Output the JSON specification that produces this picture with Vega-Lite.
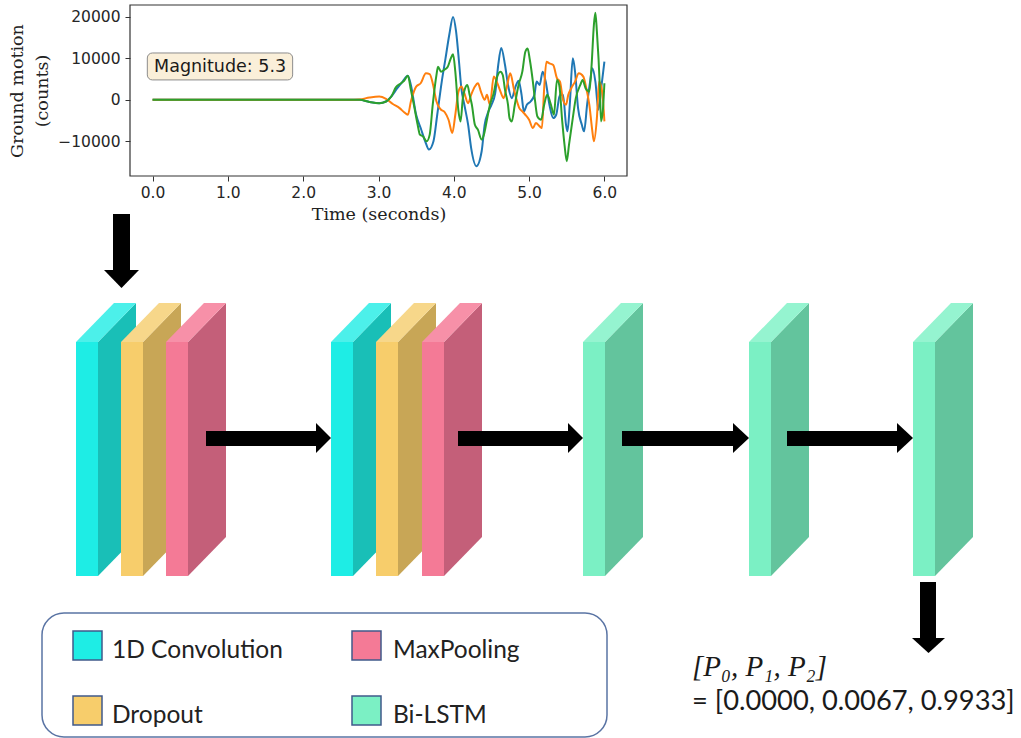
{
  "$schema": "https://vega.github.io/schema/vega-lite/v6.json",
  "width": 1021,
  "height": 738,
  "autosize": {"type": "none"},
  "padding": 0,
  "background": "white",
  "config": {"view": {"stroke": null}},
  "datasets": {
    "wave": [
      {"ch":"c1","t":0,"v":0},{"ch":"c1","t":2.6,"v":0},{"ch":"c1","t":2.75,"v":0},{"ch":"c1","t":2.88,"v":-500},{"ch":"c1","t":3.01,"v":-800},{"ch":"c1","t":3.1,"v":-400},{"ch":"c1","t":3.17,"v":800},{"ch":"c1","t":3.25,"v":2800},{"ch":"c1","t":3.32,"v":4400},{"ch":"c1","t":3.39,"v":5800},{"ch":"c1","t":3.43,"v":3600},{"ch":"c1","t":3.5,"v":-3600},{"ch":"c1","t":3.56,"v":-6800},{"ch":"c1","t":3.62,"v":-10000},{"ch":"c1","t":3.67,"v":-12000},{"ch":"c1","t":3.73,"v":-10000},{"ch":"c1","t":3.78,"v":-3600},{"ch":"c1","t":3.84,"v":4400},{"ch":"c1","t":3.89,"v":10000},{"ch":"c1","t":3.94,"v":15700},{"ch":"c1","t":3.99,"v":20000},{"ch":"c1","t":4.03,"v":16500},{"ch":"c1","t":4.07,"v":9000},{"ch":"c1","t":4.1,"v":2800},{"ch":"c1","t":4.14,"v":-1200},{"ch":"c1","t":4.19,"v":-6000},{"ch":"c1","t":4.23,"v":-11600},{"ch":"c1","t":4.3,"v":-16000},{"ch":"c1","t":4.37,"v":-12400},{"ch":"c1","t":4.41,"v":-6000},{"ch":"c1","t":4.46,"v":-2800},{"ch":"c1","t":4.5,"v":-1200},{"ch":"c1","t":4.55,"v":1600},{"ch":"c1","t":4.59,"v":8400},{"ch":"c1","t":4.63,"v":12500},{"ch":"c1","t":4.68,"v":8400},{"ch":"c1","t":4.72,"v":3600},{"ch":"c1","t":4.77,"v":400},{"ch":"c1","t":4.82,"v":3200},{"ch":"c1","t":4.86,"v":4600},{"ch":"c1","t":4.9,"v":1200},{"ch":"c1","t":4.93,"v":-2800},{"ch":"c1","t":4.97,"v":-1200},{"ch":"c1","t":5.02,"v":-400},{"ch":"c1","t":5.07,"v":1200},{"ch":"c1","t":5.1,"v":4400},{"ch":"c1","t":5.14,"v":3600},{"ch":"c1","t":5.18,"v":6800},{"ch":"c1","t":5.22,"v":4400},{"ch":"c1","t":5.27,"v":-1200},{"ch":"c1","t":5.32,"v":-4400},{"ch":"c1","t":5.36,"v":-3600},{"ch":"c1","t":5.41,"v":1200},{"ch":"c1","t":5.45,"v":1200},{"ch":"c1","t":5.49,"v":-6000},{"ch":"c1","t":5.51,"v":-7600},{"ch":"c1","t":5.54,"v":-1200},{"ch":"c1","t":5.58,"v":10000},{"ch":"c1","t":5.61,"v":6800},{"ch":"c1","t":5.65,"v":-2000},{"ch":"c1","t":5.7,"v":-6000},{"ch":"c1","t":5.73,"v":-7600},{"ch":"c1","t":5.77,"v":-1200},{"ch":"c1","t":5.81,"v":4400},{"ch":"c1","t":5.84,"v":7600},{"ch":"c1","t":5.88,"v":4400},{"ch":"c1","t":5.92,"v":-2400},{"ch":"c1","t":5.96,"v":3200},{"ch":"c1","t":6.0,"v":9200},
      {"ch":"c2","t":0,"v":0},{"ch":"c2","t":2.6,"v":0},{"ch":"c2","t":2.75,"v":100},{"ch":"c2","t":2.88,"v":560},{"ch":"c2","t":3.01,"v":800},{"ch":"c2","t":3.1,"v":240},{"ch":"c2","t":3.19,"v":-1000},{"ch":"c2","t":3.28,"v":-2000},{"ch":"c2","t":3.34,"v":-3000},{"ch":"c2","t":3.39,"v":-3600},{"ch":"c2","t":3.43,"v":-400},{"ch":"c2","t":3.5,"v":3200},{"ch":"c2","t":3.56,"v":4000},{"ch":"c2","t":3.63,"v":6400},{"ch":"c2","t":3.68,"v":6200},{"ch":"c2","t":3.72,"v":4000},{"ch":"c2","t":3.77,"v":-400},{"ch":"c2","t":3.82,"v":-2200},{"ch":"c2","t":3.88,"v":-3000},{"ch":"c2","t":3.93,"v":-4800},{"ch":"c2","t":3.98,"v":-8000},{"ch":"c2","t":4.02,"v":-3600},{"ch":"c2","t":4.06,"v":1800},{"ch":"c2","t":4.1,"v":3200},{"ch":"c2","t":4.14,"v":1600},{"ch":"c2","t":4.19,"v":-800},{"ch":"c2","t":4.23,"v":1200},{"ch":"c2","t":4.28,"v":3200},{"ch":"c2","t":4.32,"v":4000},{"ch":"c2","t":4.36,"v":2000},{"ch":"c2","t":4.41,"v":0},{"ch":"c2","t":4.44,"v":1200},{"ch":"c2","t":4.48,"v":-1200},{"ch":"c2","t":4.53,"v":5600},{"ch":"c2","t":4.57,"v":4400},{"ch":"c2","t":4.62,"v":2000},{"ch":"c2","t":4.66,"v":400},{"ch":"c2","t":4.7,"v":2800},{"ch":"c2","t":4.75,"v":6400},{"ch":"c2","t":4.8,"v":2400},{"ch":"c2","t":4.84,"v":-400},{"ch":"c2","t":4.87,"v":-2000},{"ch":"c2","t":4.91,"v":-2800},{"ch":"c2","t":4.95,"v":-3600},{"ch":"c2","t":5.0,"v":-4800},{"ch":"c2","t":5.05,"v":-6800},{"ch":"c2","t":5.09,"v":-5600},{"ch":"c2","t":5.14,"v":-6400},{"ch":"c2","t":5.17,"v":-6800},{"ch":"c2","t":5.2,"v":2800},{"ch":"c2","t":5.23,"v":9200},{"ch":"c2","t":5.27,"v":8800},{"ch":"c2","t":5.32,"v":8400},{"ch":"c2","t":5.37,"v":5200},{"ch":"c2","t":5.41,"v":4400},{"ch":"c2","t":5.45,"v":0},{"ch":"c2","t":5.49,"v":-1200},{"ch":"c2","t":5.52,"v":1200},{"ch":"c2","t":5.56,"v":2800},{"ch":"c2","t":5.61,"v":4400},{"ch":"c2","t":5.66,"v":6400},{"ch":"c2","t":5.72,"v":5600},{"ch":"c2","t":5.75,"v":3600},{"ch":"c2","t":5.8,"v":-1200},{"ch":"c2","t":5.84,"v":-7600},{"ch":"c2","t":5.86,"v":-10000},{"ch":"c2","t":5.9,"v":-4400},{"ch":"c2","t":5.93,"v":4400},{"ch":"c2","t":5.97,"v":2000},{"ch":"c2","t":6.0,"v":-5200},
      {"ch":"c3","t":0,"v":0},{"ch":"c3","t":2.6,"v":0},{"ch":"c3","t":2.75,"v":0},{"ch":"c3","t":2.88,"v":-500},{"ch":"c3","t":3.01,"v":-800},{"ch":"c3","t":3.1,"v":-400},{"ch":"c3","t":3.17,"v":800},{"ch":"c3","t":3.23,"v":3000},{"ch":"c3","t":3.3,"v":4000},{"ch":"c3","t":3.34,"v":4600},{"ch":"c3","t":3.39,"v":5800},{"ch":"c3","t":3.43,"v":2400},{"ch":"c3","t":3.47,"v":-1200},{"ch":"c3","t":3.52,"v":-6000},{"ch":"c3","t":3.55,"v":-8400},{"ch":"c3","t":3.59,"v":-8800},{"ch":"c3","t":3.64,"v":-10000},{"ch":"c3","t":3.68,"v":-8400},{"ch":"c3","t":3.72,"v":-1200},{"ch":"c3","t":3.77,"v":6000},{"ch":"c3","t":3.79,"v":8000},{"ch":"c3","t":3.83,"v":6800},{"ch":"c3","t":3.87,"v":7200},{"ch":"c3","t":3.92,"v":8000},{"ch":"c3","t":3.96,"v":10000},{"ch":"c3","t":3.99,"v":11000},{"ch":"c3","t":4.02,"v":6800},{"ch":"c3","t":4.06,"v":-2400},{"ch":"c3","t":4.09,"v":-5200},{"ch":"c3","t":4.12,"v":400},{"ch":"c3","t":4.15,"v":2800},{"ch":"c3","t":4.18,"v":3600},{"ch":"c3","t":4.21,"v":1200},{"ch":"c3","t":4.24,"v":-1200},{"ch":"c3","t":4.28,"v":-6000},{"ch":"c3","t":4.32,"v":-7200},{"ch":"c3","t":4.37,"v":-9600},{"ch":"c3","t":4.4,"v":-8400},{"ch":"c3","t":4.44,"v":-4800},{"ch":"c3","t":4.48,"v":-1200},{"ch":"c3","t":4.53,"v":1600},{"ch":"c3","t":4.57,"v":5200},{"ch":"c3","t":4.62,"v":6800},{"ch":"c3","t":4.65,"v":6000},{"ch":"c3","t":4.68,"v":2400},{"ch":"c3","t":4.72,"v":-1200},{"ch":"c3","t":4.74,"v":-4400},{"ch":"c3","t":4.77,"v":-5200},{"ch":"c3","t":4.81,"v":-1200},{"ch":"c3","t":4.86,"v":3600},{"ch":"c3","t":4.91,"v":6800},{"ch":"c3","t":4.95,"v":11600},{"ch":"c3","t":4.98,"v":12400},{"ch":"c3","t":5.01,"v":9600},{"ch":"c3","t":5.05,"v":4400},{"ch":"c3","t":5.08,"v":-400},{"ch":"c3","t":5.11,"v":-4000},{"ch":"c3","t":5.16,"v":-4800},{"ch":"c3","t":5.2,"v":-1200},{"ch":"c3","t":5.24,"v":1200},{"ch":"c3","t":5.29,"v":-1200},{"ch":"c3","t":5.33,"v":-3600},{"ch":"c3","t":5.37,"v":4800},{"ch":"c3","t":5.4,"v":3600},{"ch":"c3","t":5.44,"v":-5200},{"ch":"c3","t":5.47,"v":-10800},{"ch":"c3","t":5.5,"v":-14800},{"ch":"c3","t":5.53,"v":-10800},{"ch":"c3","t":5.58,"v":-4400},{"ch":"c3","t":5.62,"v":400},{"ch":"c3","t":5.68,"v":3600},{"ch":"c3","t":5.71,"v":4800},{"ch":"c3","t":5.75,"v":2800},{"ch":"c3","t":5.8,"v":2000},{"ch":"c3","t":5.83,"v":8400},{"ch":"c3","t":5.86,"v":18000},{"ch":"c3","t":5.88,"v":21000},{"ch":"c3","t":5.9,"v":16500},{"ch":"c3","t":5.94,"v":2800},{"ch":"c3","t":5.955,"v":-5200},{"ch":"c3","t":5.98,"v":-2400},{"ch":"c3","t":6.0,"v":4000}
    ],
    "frame": [{"t": -0.3, "t2": 6.3, "v": -18375, "v2": 22875}],
    "annot": [{"label": "Magnitude: 5.3", "t": -0.07, "t2": 1.86, "v": 4800, "v2": 11300, "tt": 0.02, "tv": 8000}],
    "fronts": [
      {"id":1,"kind":"1D Convolution","xl":76,"xr":98,"yt":342,"yb":576},
      {"id":2,"kind":"Dropout","xl":121,"xr":143,"yt":342,"yb":576},
      {"id":3,"kind":"MaxPooling","xl":166,"xr":188,"yt":342,"yb":576},
      {"id":4,"kind":"1D Convolution","xl":331,"xr":353,"yt":342,"yb":576},
      {"id":5,"kind":"Dropout","xl":376,"xr":398,"yt":342,"yb":576},
      {"id":6,"kind":"MaxPooling","xl":422,"xr":444,"yt":342,"yb":576},
      {"id":7,"kind":"Bi-LSTM","xl":583,"xr":605,"yt":342,"yb":576},
      {"id":8,"kind":"Bi-LSTM","xl":749,"xr":771,"yt":342,"yb":576},
      {"id":9,"kind":"Bi-LSTM","xl":913,"xr":935,"yt":342,"yb":576}
    ],
    "sides": [
      {"id":1,"kind":"1D Convolution","x":98,"yt":342,"yb":576},{"id":1,"kind":"1D Convolution","x":136,"yt":303,"yb":537},
      {"id":2,"kind":"Dropout","x":143,"yt":342,"yb":576},{"id":2,"kind":"Dropout","x":181,"yt":303,"yb":537},
      {"id":3,"kind":"MaxPooling","x":188,"yt":342,"yb":576},{"id":3,"kind":"MaxPooling","x":226,"yt":303,"yb":537},
      {"id":4,"kind":"1D Convolution","x":353,"yt":342,"yb":576},{"id":4,"kind":"1D Convolution","x":391,"yt":303,"yb":537},
      {"id":5,"kind":"Dropout","x":398,"yt":342,"yb":576},{"id":5,"kind":"Dropout","x":436,"yt":303,"yb":537},
      {"id":6,"kind":"MaxPooling","x":444,"yt":342,"yb":576},{"id":6,"kind":"MaxPooling","x":482,"yt":303,"yb":537},
      {"id":7,"kind":"Bi-LSTM","x":605,"yt":342,"yb":576},{"id":7,"kind":"Bi-LSTM","x":643,"yt":303,"yb":537},
      {"id":8,"kind":"Bi-LSTM","x":771,"yt":342,"yb":576},{"id":8,"kind":"Bi-LSTM","x":809,"yt":303,"yb":537},
      {"id":9,"kind":"Bi-LSTM","x":935,"yt":342,"yb":576},{"id":9,"kind":"Bi-LSTM","x":973,"yt":303,"yb":537}
    ],
    "tops": [
      {"id":1,"kind":"1D Convolution","y":342,"xl":76,"xr":98},{"id":1,"kind":"1D Convolution","y":303,"xl":114,"xr":136},
      {"id":2,"kind":"Dropout","y":342,"xl":121,"xr":143},{"id":2,"kind":"Dropout","y":303,"xl":159,"xr":181},
      {"id":3,"kind":"MaxPooling","y":342,"xl":166,"xr":188},{"id":3,"kind":"MaxPooling","y":303,"xl":204,"xr":226},
      {"id":4,"kind":"1D Convolution","y":342,"xl":331,"xr":353},{"id":4,"kind":"1D Convolution","y":303,"xl":369,"xr":391},
      {"id":5,"kind":"Dropout","y":342,"xl":376,"xr":398},{"id":5,"kind":"Dropout","y":303,"xl":414,"xr":436},
      {"id":6,"kind":"MaxPooling","y":342,"xl":422,"xr":444},{"id":6,"kind":"MaxPooling","y":303,"xl":460,"xr":482},
      {"id":7,"kind":"Bi-LSTM","y":342,"xl":583,"xr":605},{"id":7,"kind":"Bi-LSTM","y":303,"xl":621,"xr":643},
      {"id":8,"kind":"Bi-LSTM","y":342,"xl":749,"xr":771},{"id":8,"kind":"Bi-LSTM","y":303,"xl":787,"xr":809},
      {"id":9,"kind":"Bi-LSTM","y":342,"xl":913,"xr":935},{"id":9,"kind":"Bi-LSTM","y":303,"xl":951,"xr":973}
    ],
    "shafts": [
      {"xl":206,"xr":317,"yt":431,"yb":446},
      {"xl":458,"xr":569,"yt":431,"yb":446},
      {"xl":622,"xr":734,"yt":431,"yb":446},
      {"xl":787,"xr":898,"yt":431,"yb":446},
      {"xl":113,"xr":130,"yt":214,"yb":271},
      {"xl":920,"xr":936,"yt":582,"yb":639}
    ],
    "rightHeads": [
      {"id":"a1","x":316,"yt":423,"yb":453},{"id":"a1","x":331,"yt":438,"yb":438},
      {"id":"a2","x":568,"yt":423,"yb":453},{"id":"a2","x":583,"yt":438,"yb":438},
      {"id":"a3","x":733,"yt":423,"yb":453},{"id":"a3","x":749,"yt":438,"yb":438},
      {"id":"a4","x":897,"yt":423,"yb":453},{"id":"a4","x":913,"yt":438,"yb":438}
    ],
    "downHeads": [
      {"id":"d1","y":270,"xl":104,"xr":139},{"id":"d1","y":288,"xl":121.5,"xr":121.5},
      {"id":"d2","y":638,"xl":912,"xr":945},{"id":"d2","y":653,"xl":928.5,"xr":928.5}
    ],
    "legendBox": [{"xl":42,"xr":607,"yt":613,"yb":737}],
    "legendKeys": [
      {"kind":"1D Convolution","xl":73,"xr":102,"yt":631,"yb":660,"tx":112,"ty":658},
      {"kind":"MaxPooling","xl":352,"xr":381,"yt":631,"yb":660,"tx":393,"ty":658},
      {"kind":"Dropout","xl":73,"xr":102,"yt":696,"yb":725,"tx":112,"ty":723},
      {"kind":"Bi-LSTM","xl":352,"xr":381,"yt":696,"yb":725,"tx":393,"ty":723}
    ],
    "outputVars": [{"label":"[P₀, P₁, P₂]","x":692,"y":676}],
    "outputVals": [{"label":"= [0.0000, 0.0067, 0.9933]","x":692,"y":710}]
  },
  "layer": [
    {
      "encoding": {
        "x": {"field": "t", "type": "quantitative",
          "scale": {"domain": [-0.3, 6.3], "range": [130, 627], "nice": false, "zero": false},
          "axis": {"values": [0,1,2,3,4,5,6], "format": ".1f", "offset": -562, "domain": false, "grid": false,
            "tickSize": 5, "tickColor": "#333333", "tickWidth": 1, "labelFlush": false, "labelOverlap": false,
            "labelFont": "DejaVu Sans", "labelFontSize": 15.5, "labelColor": "#262626", "labelPadding": 4,
            "title": "Time (seconds)", "titleFont": "DejaVu Serif", "titleFontSize": 17.5, "titleFontWeight": "normal",
            "titleColor": "#222222", "titlePadding": 5}},
        "y": {"field": "v", "type": "quantitative",
          "scale": {"domain": [-18375, 22875], "range": [176, 5], "nice": false, "zero": false},
          "axis": {"values": [-10000, 0, 10000, 20000], "format": "d", "offset": -130, "domain": false, "grid": false,
            "tickSize": 5, "tickColor": "#333333", "tickWidth": 1, "labelOverlap": false,
            "labelFont": "DejaVu Sans", "labelFontSize": 15.5, "labelColor": "#262626", "labelPadding": 5,
            "title": ["Ground motion", "(counts)"], "titleFont": "DejaVu Serif", "titleFontSize": 17.5,
            "titleFontWeight": "normal", "titleColor": "#222222", "titlePadding": 6, "titleLineHeight": 25}}
      },
      "layer": [
        {
          "data": {"name": "wave"},
          "mark": {"type": "line", "interpolate": "monotone", "strokeWidth": 2},
          "encoding": {
            "color": {"field": "ch", "type": "nominal", "scale": {"domain": ["c1","c2","c3"], "range": ["#1f77b4","#ff7f0e","#2ca02c"]}, "legend": null}
          }
        },
        {
          "data": {"name": "frame"},
          "mark": {"type": "rect", "fill": "white", "fillOpacity": 0, "stroke": "#333333", "strokeWidth": 1.2},
          "encoding": {"x2": {"field": "t2"}, "y2": {"field": "v2"}}
        },
        {
          "data": {"name": "annot"},
          "mark": {"type": "rect", "fill": "#faefd9", "stroke": "#8c8c8c", "strokeWidth": 1, "cornerRadius": 5},
          "encoding": {"x2": {"field": "t2"}, "y2": {"field": "v2"}}
        },
        {
          "data": {"name": "annot"},
          "mark": {"type": "text", "align": "left", "baseline": "middle", "font": "DejaVu Sans", "fontSize": 17.5, "color": "#1a1a1a"},
          "encoding": {
            "x": {"field": "tt", "type": "quantitative"},
            "y": {"field": "tv", "type": "quantitative"},
            "text": {"field": "label"}
          }
        }
      ]
    },
    {
      "layer": [
        {
          "data": {"name": "sides"},
          "mark": {"type": "area", "opacity": 1, "interpolate": "linear"},
          "encoding": {
            "x": {"field": "x", "type": "quantitative", "scale": {"domain": [0, 1021], "nice": false, "zero": false}, "axis": null},
            "y": {"field": "yt", "type": "quantitative", "scale": {"domain": [0, 738], "nice": false, "zero": false, "reverse": true}, "axis": null},
            "y2": {"field": "yb"},
            "detail": {"field": "id", "type": "nominal"},
            "color": {"field": "kind", "type": "nominal", "scale": {"domain": ["1D Convolution","Dropout","MaxPooling","Bi-LSTM"], "range": ["#19bfb7","#c8a656","#c45f79","#63c49d"]}, "legend": null}
          }
        },
        {
          "data": {"name": "tops"},
          "mark": {"type": "area", "orient": "horizontal", "opacity": 1, "interpolate": "linear"},
          "encoding": {
            "y": {"field": "y", "type": "quantitative", "scale": {"domain": [0, 738], "nice": false, "zero": false, "reverse": true}, "axis": null},
            "x": {"field": "xl", "type": "quantitative", "scale": {"domain": [0, 1021], "nice": false, "zero": false}, "axis": null},
            "x2": {"field": "xr"},
            "detail": {"field": "id", "type": "nominal"},
            "color": {"field": "kind", "type": "nominal", "scale": {"domain": ["1D Convolution","Dropout","MaxPooling","Bi-LSTM"], "range": ["#4cf0ea","#f7d78a","#f790a8","#95f4d0"]}, "legend": null}
          }
        },
        {
          "data": {"name": "fronts"},
          "mark": {"type": "rect"},
          "encoding": {
            "x": {"field": "xl", "type": "quantitative", "scale": {"domain": [0, 1021], "nice": false, "zero": false}, "axis": null},
            "x2": {"field": "xr"},
            "y": {"field": "yt", "type": "quantitative", "scale": {"domain": [0, 738], "nice": false, "zero": false, "reverse": true}, "axis": null},
            "y2": {"field": "yb"},
            "color": {"field": "kind", "type": "nominal", "scale": {"domain": ["1D Convolution","Dropout","MaxPooling","Bi-LSTM"], "range": ["#1eede5","#f7cd6b","#f47a96","#7bf0c4"]}, "legend": null}
          }
        },
        {
          "data": {"name": "shafts"},
          "mark": {"type": "rect", "color": "black"},
          "encoding": {
            "x": {"field": "xl", "type": "quantitative", "scale": {"domain": [0, 1021], "nice": false, "zero": false}, "axis": null},
            "x2": {"field": "xr"},
            "y": {"field": "yt", "type": "quantitative", "scale": {"domain": [0, 738], "nice": false, "zero": false, "reverse": true}, "axis": null},
            "y2": {"field": "yb"}
          }
        },
        {
          "data": {"name": "rightHeads"},
          "mark": {"type": "area", "color": "black", "opacity": 1, "interpolate": "linear"},
          "encoding": {
            "x": {"field": "x", "type": "quantitative", "scale": {"domain": [0, 1021], "nice": false, "zero": false}, "axis": null},
            "y": {"field": "yt", "type": "quantitative", "scale": {"domain": [0, 738], "nice": false, "zero": false, "reverse": true}, "axis": null},
            "y2": {"field": "yb"},
            "detail": {"field": "id", "type": "nominal"}
          }
        },
        {
          "data": {"name": "downHeads"},
          "mark": {"type": "area", "orient": "horizontal", "color": "black", "opacity": 1, "interpolate": "linear"},
          "encoding": {
            "y": {"field": "y", "type": "quantitative", "scale": {"domain": [0, 738], "nice": false, "zero": false, "reverse": true}, "axis": null},
            "x": {"field": "xl", "type": "quantitative", "scale": {"domain": [0, 1021], "nice": false, "zero": false}, "axis": null},
            "x2": {"field": "xr"},
            "detail": {"field": "id", "type": "nominal"}
          }
        },
        {
          "data": {"name": "legendBox"},
          "mark": {"type": "rect", "fill": "white", "fillOpacity": 0, "stroke": "#5a74a4", "strokeWidth": 1.5, "cornerRadius": 22},
          "encoding": {
            "x": {"field": "xl", "type": "quantitative", "scale": {"domain": [0, 1021], "nice": false, "zero": false}, "axis": null},
            "x2": {"field": "xr"},
            "y": {"field": "yt", "type": "quantitative", "scale": {"domain": [0, 738], "nice": false, "zero": false, "reverse": true}, "axis": null},
            "y2": {"field": "yb"}
          }
        },
        {
          "data": {"name": "legendKeys"},
          "mark": {"type": "rect", "stroke": "#40598a", "strokeWidth": 1.5},
          "encoding": {
            "x": {"field": "xl", "type": "quantitative", "scale": {"domain": [0, 1021], "nice": false, "zero": false}, "axis": null},
            "x2": {"field": "xr"},
            "y": {"field": "yt", "type": "quantitative", "scale": {"domain": [0, 738], "nice": false, "zero": false, "reverse": true}, "axis": null},
            "y2": {"field": "yb"},
            "color": {"field": "kind", "type": "nominal", "scale": {"domain": ["1D Convolution","Dropout","MaxPooling","Bi-LSTM"], "range": ["#1eede5","#f7cd6b","#f47a96","#7bf0c4"]}, "legend": null}
          }
        },
        {
          "data": {"name": "legendKeys"},
          "mark": {"type": "text", "align": "left", "baseline": "alphabetic", "font": "Lato", "fontSize": 24.5, "color": "#222222"},
          "encoding": {
            "x": {"field": "tx", "type": "quantitative", "scale": {"domain": [0, 1021], "nice": false, "zero": false}, "axis": null},
            "y": {"field": "ty", "type": "quantitative", "scale": {"domain": [0, 738], "nice": false, "zero": false, "reverse": true}, "axis": null},
            "text": {"field": "kind"}
          }
        },
        {
          "data": {"name": "outputVars"},
          "mark": {"type": "text", "align": "left", "baseline": "alphabetic", "font": "Liberation Serif", "fontStyle": "italic", "fontSize": 29, "color": "#1a1a1a"},
          "encoding": {
            "x": {"field": "x", "type": "quantitative", "scale": {"domain": [0, 1021], "nice": false, "zero": false}, "axis": null},
            "y": {"field": "y", "type": "quantitative", "scale": {"domain": [0, 738], "nice": false, "zero": false, "reverse": true}, "axis": null},
            "text": {"field": "label"}
          }
        },
        {
          "data": {"name": "outputVals"},
          "mark": {"type": "text", "align": "left", "baseline": "alphabetic", "font": "Lato", "fontSize": 27.3, "color": "#1a1a1a"},
          "encoding": {
            "x": {"field": "x", "type": "quantitative", "scale": {"domain": [0, 1021], "nice": false, "zero": false}, "axis": null},
            "y": {"field": "y", "type": "quantitative", "scale": {"domain": [0, 738], "nice": false, "zero": false, "reverse": true}, "axis": null},
            "text": {"field": "label"}
          }
        }
      ],
      "resolve": {"scale": {"color": "independent"}}
    }
  ],
  "resolve": {"scale": {"x": "independent", "y": "independent", "color": "independent"}}
}
